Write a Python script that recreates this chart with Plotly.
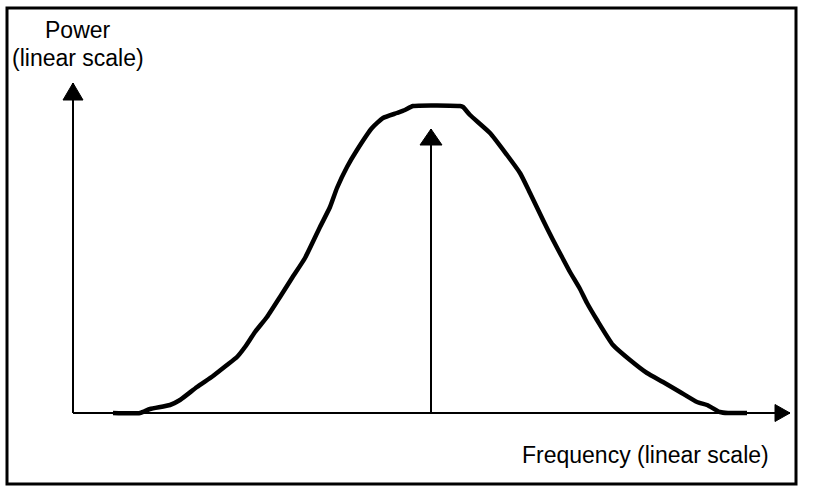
import plotly.graph_objects as go

# Spectrum curve (frequency, power) in arbitrary linear units
freq = [40, 67, 77, 97, 107, 124, 140, 154, 164, 172, 182, 194, 207, 219, 232,
        247, 257, 264, 274, 284, 299, 310, 324, 332, 340, 387, 390, 397, 417,
        434, 447, 457, 470, 480, 489, 497, 507, 514, 524, 540, 557, 574, 590,
        607, 624, 634, 647, 655, 674]
power = [0, 0, 4, 8, 13, 26, 37, 48, 56, 66, 81, 96, 116, 135, 155,
         186, 206, 225, 246, 263, 285, 295, 300, 303, 307, 307, 306, 298, 280,
         258, 240, 220, 193, 173, 156, 141, 124, 110, 93, 68, 53, 40, 31,
         21, 11, 8, 1, 0, 0]

# Axis extents and the centre-frequency marker
x_axis_end = 717
y_axis_end = 330
center_freq = 358
center_top = 284

y_label_lines = ["Power", "(linear scale)"]
x_label = "Frequency (linear scale)"

FONT = "Liberation Sans, Arial, sans-serif"

fig = go.Figure()

def arrow(x0, y0, x1, y1, head_len, head_w, width):
    # shaft
    fig.add_trace(go.Scatter(x=[x0, x1], y=[y0, y1], mode="lines",
                             line=dict(color="black", width=width),
                             hoverinfo="skip", showlegend=False))
    # head
    if x0 == x1:
        s = 1 if y1 > y0 else -1
        hx = [x1, x1 - head_w / 2, x1 + head_w / 2, x1]
        hy = [y1, y1 - s * head_len, y1 - s * head_len, y1]
    else:
        s = 1 if x1 > x0 else -1
        hx = [x1, x1 - s * head_len, x1 - s * head_len, x1]
        hy = [y1, y1 - head_w / 2, y1 + head_w / 2, y1]
    fig.add_trace(go.Scatter(x=hx, y=hy, mode="lines", fill="toself",
                             fillcolor="black",
                             line=dict(color="black", width=1),
                             hoverinfo="skip", showlegend=False))

# axes
arrow(0, 0, x_axis_end, 0, 15, 17, 2)
arrow(0, 0, 0, y_axis_end, 17, 20, 2)
# centre marker
arrow(center_freq, 0, center_freq, center_top, 16, 22, 2)

# curve
fig.add_trace(go.Scatter(x=freq, y=power, mode="lines",
                         line=dict(color="black", width=4.5, shape="spline",
                                   smoothing=0.5),
                         hoverinfo="skip", showlegend=False))

# border
fig.add_shape(type="rect", xref="x", yref="y", x0=-66, x1=723, y0=405, y1=-71,
              line=dict(color="black", width=3), layer="above")

fig.add_annotation(x=4.5, y=383, xref="x", yref="y", text=y_label_lines[0],
                   showarrow=False, font=dict(family=FONT, size=23, color="black"),
                   xanchor="center", yanchor="middle")
fig.add_annotation(x=4.5, y=355, xref="x", yref="y", text=y_label_lines[1],
                   showarrow=False, font=dict(family=FONT, size=23, color="black"),
                   xanchor="center", yanchor="middle")
fig.add_annotation(x=572, y=-42, xref="x", yref="y", text=x_label,
                   showarrow=False, font=dict(family=FONT, size=23, color="black"),
                   xanchor="center", yanchor="middle")

fig.update_layout(
    width=828, height=488,
    margin=dict(l=0, r=0, t=0, b=0),
    paper_bgcolor="white", plot_bgcolor="white",
    xaxis=dict(range=[-73, 755], visible=False, fixedrange=True),
    yaxis=dict(range=[-75, 413], visible=False, fixedrange=True),
    showlegend=False,
)

fig.write_html("out.html", config={"displayModeBar": False})
